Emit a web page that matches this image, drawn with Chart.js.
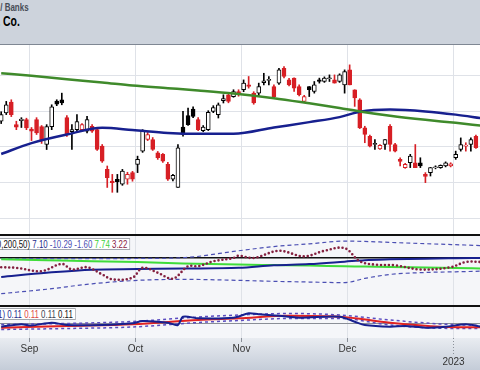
<!DOCTYPE html>
<html>
<head>
<meta charset="utf-8">
<script src="https://cdn.jsdelivr.net/npm/chart.js@4.4.0/dist/chart.umd.min.js"></script>
<style>
html, body { margin: 0; padding: 0; width: 480px; height: 370px; overflow: hidden; background: #cdd3dc; }
canvas { position: absolute; left: 0; display: block; }
.txt { position: absolute; white-space: nowrap; font-family: "Liberation Sans", Arial, sans-serif; font-weight: bold; transform-origin: right top; }
.box { position: absolute; white-space: nowrap; background: #fff; border: 1px solid #a3a7ae; font: 10.5px "Liberation Sans", Arial, sans-serif; line-height: 10px; height: 10px; padding: 0 3px 0 0; transform: scaleX(0.75); transform-origin: right top; }
.rule { position: absolute; left: 0; width: 480px; }
</style>
</head>
<body>
<div class="txt" style="right:451px;top:1px;font-size:10.5px;color:#474c56;transform:scaleX(0.76)">Financials / Banks</div>
<div class="txt" style="right:460px;top:13px;font-size:14.5px;color:#000;transform:scaleX(0.72)">Wells Fargo &amp; Co.</div>
<div class="rule" style="top:44px;height:1px;background:#7f8793"></div>

<canvas id="priceChart" width="480" height="189" style="top:45px"></canvas>
<div class="rule" style="top:234px;height:2px;background:#111"></div>
<canvas id="midChart" width="480" height="69" style="top:236px;background:#f5f6f9"></canvas>
<div class="rule" style="top:305px;height:2px;background:#111"></div>
<canvas id="lowChart" width="480" height="63" style="top:307px;background:linear-gradient(#f5f6f9 0, #f5f6f9 31px, #e9ecf1 31px, #c4ccd8 63px)"></canvas>

<div class="box" style="right:350px;top:238px"><span style="color:#111">(20,200,50)</span> <span style="color:#1c2a8c">7.10</span> <span style="color:#4b4fb3">-10.29</span> <span style="color:#4b4fb3">-1.60</span> <span style="color:#3ad13a">7.74</span> <span style="color:#8a2242">3.22</span></div>
<div class="box" style="right:404px;top:308px"><span style="color:#1c2a8c">(20,1) 0.11</span> <span style="color:#e0453f">0.11</span> <span style="color:#3a4150">0.11</span> <span style="color:#111">0.11</span></div>

<script>
// daily candles, Aug 24 2022 .. Jan 9 2023
const opens = [45.41, 45.87, 46.48, 45.22, 45.44, 45.50, 44.97, 45.50, 45.11, 44.11,
    45.11, 46.53, 46.61, 45.61, 44.83, 44.94, 44.94, 44.85, 45.13, 44.94,
    44.02, 42.72, 42.07, 42.17, 41.89, 42.17, 42.54, 43.00, 43.74, 44.39,
    44.39, 43.65, 43.56, 43.00, 42.17, 41.71, 45.09, 45.72, 46.09, 45.50,
    44.89, 44.94, 45.96, 45.78, 46.56, 46.89, 46.79, 47.07, 47.17, 47.44,
    46.98, 46.98, 47.56, 47.69, 47.35, 47.54, 48.37, 47.72, 47.82, 47.35,
    46.52, 47.35, 47.07, 47.72, 47.63, 47.79, 47.72, 47.63, 47.44, 48.28,
    47.17, 46.61, 45.04, 44.57, 44.11, 43.87, 44.11, 45.13, 44.11, 43.28,
    42.82, 43.09, 43.09, 43.09, 42.44, 42.54, 42.81, 42.82, 42.91, 42.91,
    43.37, 43.83, 44.02, 44.11, 44.57];
const highs = [45.94, 46.52, 46.61, 45.41, 45.61, 45.58, 45.06, 45.61, 45.17, 45.22,
    46.33, 46.61, 46.98, 45.72, 45.22, 45.78, 45.28, 45.68, 45.22, 45.06,
    44.11, 42.91, 42.44, 42.44, 42.72, 42.56, 42.61, 43.46, 44.94, 44.78,
    44.50, 43.72, 43.61, 43.11, 42.44, 44.11, 45.96, 46.15, 46.22, 45.61,
    45.17, 46.00, 46.28, 46.43, 46.89, 46.94, 47.17, 47.17, 47.72, 47.91,
    47.06, 47.54, 48.09, 47.91, 47.44, 48.36, 48.46, 47.81, 47.83, 47.44,
    46.86, 47.35, 47.63, 47.82, 47.89, 48.00, 48.00, 48.06, 48.28, 48.56,
    47.17, 46.67, 45.13, 44.64, 44.39, 44.11, 44.39, 45.22, 44.17, 43.37,
    43.06, 43.56, 44.11, 43.37, 42.54, 42.83, 42.92, 42.97, 43.14, 43.09,
    43.74, 44.48, 44.21, 44.48, 44.64];
const lows = [45.28, 45.78, 45.67, 44.94, 45.06, 44.94, 44.33, 44.67, 44.17, 43.83,
    44.94, 46.28, 46.33, 44.56, 43.83, 44.85, 44.83, 44.76, 44.78, 43.78,
    43.11, 41.71, 41.44, 41.44, 41.83, 41.89, 42.06, 42.54, 43.67, 44.33,
    43.78, 43.28, 43.11, 42.11, 42.07, 41.71, 44.57, 45.17, 45.61, 44.89,
    44.83, 44.89, 45.89, 45.59, 46.43, 46.44, 46.75, 46.81, 47.06, 47.26,
    46.36, 46.79, 47.44, 47.44, 46.72, 47.47, 47.83, 47.39, 47.07, 46.83,
    46.47, 46.79, 46.98, 47.54, 47.58, 47.63, 47.54, 47.58, 46.98, 47.44,
    46.24, 45.00, 44.21, 43.97, 43.83, 43.83, 43.83, 43.74, 43.69, 42.91,
    42.78, 42.82, 42.82, 42.82, 41.98, 42.35, 42.75, 42.78, 42.86, 42.86,
    43.28, 43.74, 43.74, 43.74, 43.89];
const closes = [45.78, 46.33, 45.78, 45.08, 45.53, 45.04, 44.86, 44.76, 44.33, 45.11,
    46.22, 46.36, 46.43, 44.67, 44.94, 45.39, 45.22, 45.50, 44.85, 43.83,
    43.18, 42.26, 41.98, 42.03, 42.63, 42.44, 42.17, 43.28, 44.85, 44.67,
    43.83, 43.37, 43.18, 42.17, 42.39, 43.93, 44.67, 45.22, 45.68, 44.94,
    45.09, 45.91, 46.18, 46.33, 46.67, 46.52, 47.07, 46.89, 47.54, 47.36,
    46.43, 47.35, 47.67, 47.75, 46.79, 48.28, 47.91, 47.44, 47.26, 46.89,
    46.79, 47.17, 47.44, 47.63, 47.82, 47.83, 47.54, 48.00, 48.18, 47.44,
    46.71, 45.04, 44.67, 44.02, 44.17, 44.06, 44.39, 44.11, 43.74, 43.17,
    43.00, 43.46, 42.82, 42.91, 42.33, 42.82, 42.86, 42.94, 43.09, 43.03,
    43.56, 44.11, 44.08, 44.39, 43.93];

// moving averages (bar index -> value)
const maIdx  = [0, 6, 13, 20, 26, 33, 39, 46, 54, 61, 67, 71, 77, 84, 90, 95];
const ma200  = [48.09, 47.95, 47.76, 47.58, 47.41, 47.26, 47.13, 46.96, 46.70, 46.41, 46.15, 45.96, 45.72, 45.49, 45.32, 45.16];
const ma50   = [43.58, 44.19, 44.67, 45.04, 44.92, 44.76, 44.71, 44.71, 45.06, 45.36, 45.64, 45.94, 46.06, 45.96, 45.78, 45.58];

// middle panel
const midIdx   = [0, 9, 18, 27, 36, 47, 54, 61, 68, 72, 77, 84, 90, 95];
const midNavy  = [-9.75, -7.65, -6.1, -5.8, -5.5, -5.15, -3.85, -3.25, -2.0, -1.25, -0.85, -0.5, -0.3, -0.15];
const midGreen = [-0.75, -1.25, -1.75, -2.25, -2.9, -3.5, -3.75, -4.0, -4.35, -4.5, -4.75, -5.0, -5.25, -5.5];
const midUpper = [-0.5, -0.5, -0.5, -0.4, 0, 3.5, 5.65, 7.0, 8.4, 8.25, 7.75, 7.1, 6.6, 6.15];
const midLower = [-18.25, -16, -13.25, -11.5, -11, -11.5, -12, -12.35, -12.65, -10.5, -8.5, -7.5, -7.15, -6.85];
const dotIdx   = [0, 3, 8, 12, 14, 17, 20, 22, 26, 28, 31, 34, 37, 39, 42, 46, 47, 50, 55, 60, 64, 68, 71, 74, 78, 83, 89, 92, 95];
const dotVals  = [-4.85, -5.15, -6.85, -3.15, -6, -4.85, -8.5, -11, -10.15, -5.15, -7.65, -10.65, -4.35, -4.35, -1.85, -0.15, 1, -0.15, 3.5, 0.65, 3.5, 4.85, -1.85, -3.5, -3.85, -6, -4.85, -2.15, -2.15];

// lower panel
const lowIdx  = [0, 4, 6, 10, 13, 20, 26, 28, 33, 35, 36, 39, 46, 49, 51, 55, 59, 67, 70, 72, 77, 80, 84, 88, 92, 95];
const lowNavy = [0.108, 0.132, 0.12, 0.148, 0.125, 0.125, 0.142, 0.165, 0.148, 0.125, 0.208, 0.192, 0.198, 0.242, 0.232, 0.218, 0.198, 0.208, 0.158, 0.125, 0.108, 0.115, 0.098, 0.108, 0.132, 0.108];
const bandIdx = [0, 13, 26, 39, 47, 57, 67, 77, 87, 95];
const lowRed  = [0.098, 0.115, 0.132, 0.175, 0.192, 0.218, 0.208, 0.148, 0.108, 0.102];
const lowUp   = [0.13, 0.14, 0.16, 0.205, 0.225, 0.24, 0.225, 0.175, 0.135, 0.12];
const lowDn   = [0.08, 0.09, 0.105, 0.15, 0.17, 0.19, 0.19, 0.125, 0.092, 0.09];

// axis
const monthTickIdx = [5.5, 26.5, 47.5, 68.5, 89.5];
const monthLabels = ['Sep', 'Oct', 'Nov', 'Dec', ''];
const yearLabels = ['', '', '', '', '2023'];
const priceGrid = [40, 42, 44, 46, 48];

const RED = '#d71f25', BLACK = '#000000';
const xMin = -0.2376, xMax = 94.81;

function pts(xs, ys) {
    return xs.map((x, i) => ({ x: x, y: ys[i] }));
}

const panelPlugin = {
    id: 'panel',
    beforeDatasetsDraw(chart, args, opts) {
        const { ctx, chartArea: a, scales } = chart;
        ctx.save();
        ctx.fillStyle = opts.bg;
        ctx.fillRect(a.left, a.top, a.width, a.height);
        ctx.strokeStyle = '#dfe2e8';
        ctx.lineWidth = 1;
        monthTickIdx.forEach(v => {
            const px = Math.round(scales.x.getPixelForValue(v)) + 0.5;
            ctx.beginPath(); ctx.moveTo(px, a.top); ctx.lineTo(px, a.bottom); ctx.stroke();
        });
        (opts.hGrid || []).forEach(v => {
            const py = Math.round(scales.y.getPixelForValue(v)) + 0.5;
            ctx.beginPath(); ctx.moveTo(a.left, py); ctx.lineTo(a.right, py); ctx.stroke();
        });
        (opts.hLines || []).forEach(l => {
            ctx.strokeStyle = l.color;
            ctx.lineWidth = l.width;
            const py = scales.y.getPixelForValue(l.value);
            ctx.beginPath(); ctx.moveTo(a.left, py); ctx.lineTo(a.right, py); ctx.stroke();
        });
        ctx.restore();
    },
    afterDraw(chart, args, opts) {
        if (!opts.axis) return;
        const { ctx, chartArea: a, scales } = chart;
        ctx.save();
        ctx.font = '10px "Liberation Sans", Arial, sans-serif';
        ctx.fillStyle = '#333';
        ctx.textAlign = 'center';
        ctx.textBaseline = 'middle';
        ctx.strokeStyle = '#8b9099';
        ctx.lineWidth = 1;
        monthTickIdx.forEach((v, i) => {
            const px = Math.round(scales.x.getPixelForValue(v)) + 0.5;
            ctx.setLineDash(yearLabels[i] ? [1, 2] : []);
            ctx.beginPath(); ctx.moveTo(px, a.bottom); ctx.lineTo(px, a.bottom + (yearLabels[i] ? 16 : 4)); ctx.stroke();
            if (monthLabels[i]) ctx.fillText(monthLabels[i], px, a.bottom + 11);
            if (yearLabels[i]) ctx.fillText(yearLabels[i], px, a.bottom + 24);
        });
        ctx.restore();
    }
};

function baseOptions(yMin, yMax, panel, padBottom) {
    return {
        responsive: false,
        animation: false,
        layout: { padding: { left: 0, right: 0, top: 0, bottom: padBottom || 0 } },
        plugins: { legend: { display: false }, tooltip: { enabled: false }, panel: panel },
        scales: {
            x: { type: 'linear', min: xMin, max: xMax, display: false, offset: false },
            y: { min: yMin, max: yMax, display: false }
        }
    };
}

function lineSet(xs, ys, color, width, extra) {
    return Object.assign({
        type: 'line',
        data: pts(xs, ys),
        borderColor: color,
        borderWidth: width,
        pointRadius: 0,
        cubicInterpolationMode: 'monotone',
        fill: false,
        order: 0
    }, extra || {});
}

// price panel
const barIdx = opens.map((o, i) => i);
const candleColor = closes.map((c, i) => (i > 0 && c < closes[i - 1]) ? RED : BLACK);
const bodyFill = closes.map((c, i) => c >= opens[i] ? '#ffffff' : candleColor[i]);

new Chart(document.getElementById('priceChart').getContext('2d'), {
    type: 'bar',
    data: {
        datasets: [
            lineSet(maIdx, ma200, '#3f8a2b', 2.5),
            lineSet(maIdx, ma50, '#17208f', 2.5),
            {
                type: 'bar',
                data: barIdx.map(i => ({ x: i, y: [opens[i], closes[i]] })),
                backgroundColor: bodyFill,
                borderColor: candleColor,
                borderWidth: 1,
                borderSkipped: false,
                barThickness: 4,
                grouped: false,
                order: 2
            },
            {
                type: 'bar',
                data: barIdx.map(i => ({ x: i, y: [lows[i], highs[i]] })),
                backgroundColor: candleColor,
                barThickness: 1,
                grouped: false,
                order: 3
            }
        ]
    },
    options: baseOptions(39.11, 49.67, { bg: '#ffffff', hGrid: priceGrid }),
    plugins: [panelPlugin]
});

// middle indicator panel
new Chart(document.getElementById('midChart').getContext('2d'), {
    type: 'line',
    data: {
        datasets: [
            lineSet(dotIdx, dotVals, '#84203f', 2.6, { borderDash: [0, 4], borderCapStyle: 'round', cubicInterpolationMode: 'default', tension: 0.35 }),
            lineSet(midIdx, midNavy, '#17208f', 2),
            lineSet(midIdx, midGreen, '#3fdc3a', 2),
            lineSet(midIdx, midUpper, '#4b4fb3', 1.2, { borderDash: [4, 3] }),
            lineSet(midIdx, midLower, '#4b4fb3', 1.2, { borderDash: [4, 3] })
        ]
    },
    options: baseOptions(-24, 11, { bg: '#f5f6f9', hLines: [{ value: 0, color: '#111', width: 1.5 }] }),
    plugins: [panelPlugin]
});

// lower indicator panel + date axis
new Chart(document.getElementById('lowChart').getContext('2d'), {
    type: 'line',
    data: {
        datasets: [
            lineSet(lowIdx, lowNavy, '#17208f', 2, { cubicInterpolationMode: 'default', tension: 0.3 }),
            lineSet(bandIdx, lowRed, '#e02222', 2),
            lineSet(bandIdx, lowUp, '#5b4cc0', 1.5, { borderDash: [3, 3] }),
            lineSet(bandIdx, lowDn, '#5b4cc0', 1.5, { borderDash: [3, 3] })
        ]
    },
    options: baseOptions(-0.005, 0.305, { bg: '#f5f6f9', axis: true, hLines: [{ value: 0.14, color: '#8a8e96', width: 1 }] }, 32),
    plugins: [panelPlugin]
});
</script>
</body>
</html>
